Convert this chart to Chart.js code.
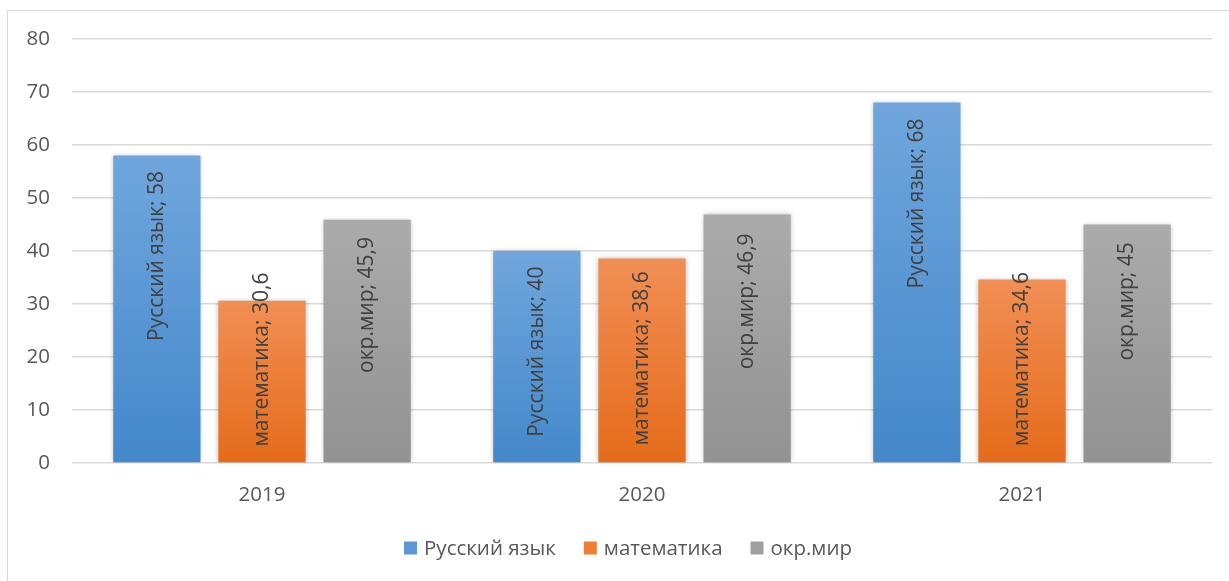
<!DOCTYPE html>
<html>
<head>
<meta charset="utf-8">
<script src="https://cdn.jsdelivr.net/npm/chart.js@4"></script>
<style>
  html, body { margin: 0; padding: 0; background: #fff; }
  #wrap { position: relative; width: 1229px; height: 581px; overflow: hidden; }
  #frame { position: absolute; left: 7px; top: 10px; width: 1240px; height: 600px; border: 1px solid #d9d9d9; box-sizing: border-box; }
  canvas { position: absolute; left: 0; top: 0; }
</style>
</head>
<body>
<div id="wrap">
  <div id="frame"></div>
  <canvas id="myChart" width="1229" height="581"></canvas>
</div>
<script>
const years = ['2019', '2020', '2021'];
const russkiy = [58, 40, 68];
const matem = [30.6, 38.6, 34.6];
const okrMir = [45.9, 46.9, 45];

const ctx = document.getElementById('myChart');
const FS = 20.5;
const legendColors = ['#5a98d6', '#ee7e36', '#a0a0a0'];

// верх светлее, низ темнее, как в офисной заливке
function gradFill(light, dark) {
    return function (c) {
        const chart = c.chart;
        if (!chart.chartArea || c.parsed === undefined) return dark;
        const y = chart.scales.y;
        const top = y.getPixelForValue(c.parsed.y);
        const bottom = y.getPixelForValue(0);
        if (!isFinite(top) || top === bottom) return dark;
        const g = chart.ctx.createLinearGradient(0, top, 0, bottom);
        g.addColorStop(0, light);
        g.addColorStop(1, dark);
        return g;
    };
}

const shadowPlugin = {
    id: 'barShadow',
    beforeDatasetsDraw(chart) {
        chart.ctx.save();
        chart.ctx.shadowColor = 'rgba(0,0,0,0.28)';
        chart.ctx.shadowBlur = 5;
        chart.ctx.shadowOffsetX = 0;
        chart.ctx.shadowOffsetY = 0;
    },
    afterDatasetsDraw(chart) {
        chart.ctx.restore();
    }
};

// подписи в столбцах, повёрнутые; сдвиги подобраны вручную, как в исходнике
const labelPlugin = {
    id: 'verticalLabels',
    afterDatasetsDraw(chart, args, opts) {
        const c = chart.ctx;
        chart.data.datasets.forEach((ds, i) => {
            const meta = chart.getDatasetMeta(i);
            meta.data.forEach((bar, j) => {
                const txt = ds.label + '; ' + String(ds.data[j]).replace('.', ',');
                const shift = (opts.shift[i] || [])[j] || 0;
                c.save();
                c.translate(bar.x, (bar.y + bar.base) / 2 + shift);
                c.rotate(-Math.PI / 2);
                c.font = '21px "Open Sans"';
                c.fillStyle = '#404040';
                c.textAlign = 'center';
                c.textBaseline = 'middle';
                c.fillText(txt, 0, 0);
                c.restore();
            });
        });
    }
};

// легенда снизу, чуть левее центра области построения
const bottomLegend = {
    id: 'bottomLegend',
    afterDraw(chart, args, opts) {
        const c = chart.ctx;
        c.save();
        c.font = FS + 'px "Open Sans"';
        c.textBaseline = 'middle';
        const items = chart.data.datasets.map((ds, i) => ({
            text: ds.label, color: legendColors[i], w: 20 + c.measureText(ds.label).width
        }));
        const total = items.reduce((s, it) => s + it.w, 0) + opts.gap * (items.length - 1);
        const cx = (chart.chartArea.left + chart.chartArea.right) / 2 + opts.offset;
        let x = cx - total / 2;
        items.forEach(it => {
            c.fillStyle = it.color;
            c.fillRect(x, opts.y - 6.5, 13, 13);
            c.fillStyle = '#595959';
            c.fillText(it.text, x + 20, opts.y + 1);
            x += it.w + opts.gap;
        });
        c.restore();
    }
};

new Chart(ctx, {
    type: 'bar',
    data: {
        labels: years,
        datasets: [{
            label: 'Русский язык',
            data: russkiy,
            backgroundColor: gradFill('#70a6dd', '#4388ca')
        }, {
            label: 'математика',
            data: matem,
            backgroundColor: gradFill('#f18f55', '#e56b1a')
        }, {
            label: 'окр.мир',
            data: okrMir,
            backgroundColor: gradFill('#ababab', '#929292')
        }]
    },
    options: {
        responsive: false,
        animation: false,
        categoryPercentage: 0.83,
        barPercentage: 0.83,
        layout: {
            padding: { top: 39, right: 17, left: 0, bottom: 58 }
        },
        plugins: {
            tooltip: { enabled: false },
            legend: { display: false },
            verticalLabels: {
                shift: [[-53, -5, -79], [-22, -2, -12], [-36, -37, -42]]
            },
            bottomLegend: { y: 548, gap: 28, offset: -14 }
        },
        scales: {
            x: {
                grid: { display: false },
                border: { display: false },
                ticks: {
                    color: '#595959',
                    font: { family: 'Open Sans', size: FS },
                    padding: 12
                },
                afterFit(scale) { scale.height = 60; }
            },
            y: {
                min: 0,
                max: 80,
                ticks: {
                    stepSize: 10,
                    color: '#595959',
                    font: { family: 'Open Sans', size: FS },
                    padding: 22
                },
                grid: { color: '#d9d9d9', lineWidth: 1.5, drawTicks: false },
                border: { display: false },
                afterFit(scale) { scale.width = 72; }
            }
        }
    },
    plugins: [shadowPlugin, labelPlugin, bottomLegend]
});
</script>
</body>
</html>
